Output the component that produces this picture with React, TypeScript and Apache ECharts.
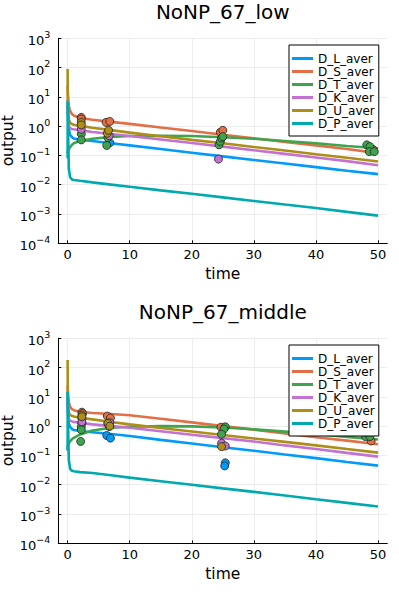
import React, { useEffect, useRef } from "react";
import * as echarts from "echarts";

// time grid of the model curves
const TIME = [0, 0.02, 0.05, 0.1, 0.2, 0.4, 0.7, 1, 2, 4, 7, 10, 15, 20, 25, 30, 35, 40, 45, 50];

// ---- NoNP_67_low : curves
const DL_low = [8, 5, 3, 1.5, 0.8, 0.5, 0.42, 0.38, 0.34, 0.31, 0.26, 0.22, 0.165, 0.124, 0.093, 0.07, 0.053, 0.04, 0.03, 0.023];
const DS_low = [25, 18, 12, 8, 5, 3.3, 2.6, 2.3, 1.9, 1.65, 1.4, 1.2, 0.9, 0.68, 0.51, 0.385, 0.29, 0.22, 0.165, 0.12];
const DT_low = [0.12, 0.13, 0.14, 0.15, 0.17, 0.19, 0.23, 0.26, 0.31, 0.37, 0.43, 0.46, 0.47, 0.46, 0.42, 0.37, 0.31, 0.26, 0.21, 0.175];
const DK_low = [5, 3.5, 2.5, 1.5, 1.0, 0.85, 0.8, 0.78, 0.72, 0.63, 0.54, 0.46, 0.35, 0.265, 0.2, 0.15, 0.113, 0.085, 0.064, 0.046];
const DU_low = [90, 15, 6, 3, 1.7, 1.3, 1.18, 1.12, 1.02, 0.88, 0.73, 0.6, 0.45, 0.34, 0.26, 0.195, 0.148, 0.11, 0.083, 0.062];
const DP_low = [0.08, 7, 2, 0.4, 0.035, 0.018, 0.0152, 0.0145, 0.0136, 0.012, 0.0101, 0.0085, 0.0064, 0.0049, 0.0037, 0.0028, 0.0021, 0.0016, 0.00118, 0.00088];

// ---- NoNP_67_low : observations [time, value]
const DL_low_obs = [[6.8, 0.27]];
const DS_low_obs = [[2.2, 2.0], [2.2, 1.75], [6.2, 1.35], [6.8, 1.45], [24.6, 0.62], [25.0, 0.72], [49.2, 0.16]];
const DT_low_obs = [[2.2, 0.54], [2.2, 0.34], [6.3, 0.22], [6.5, 0.4], [24.4, 0.23], [24.6, 0.3], [24.8, 0.39], [25.0, 0.44], [48.2, 0.23], [48.7, 0.2], [48.6, 0.135], [49.4, 0.135]];
const DK_low_obs = [[2.2, 0.78], [6.7, 0.47], [24.3, 0.075]];
const DU_low_obs = [[2.2, 1.35], [2.2, 1.1], [6.4, 0.57], [6.6, 0.72]];

// ---- NoNP_67_middle : curves
const DL_mid = [15, 8, 4, 2.2, 1.2, 0.95, 0.8, 0.74, 0.68, 0.62, 0.54, 0.46, 0.34, 0.255, 0.19, 0.145, 0.108, 0.081, 0.06, 0.045];
const DS_mid = [25, 18, 13, 10, 6.5, 4.6, 3.8, 3.5, 3.1, 2.8, 2.6, 2.35, 1.8, 1.35, 1.0, 0.76, 0.56, 0.42, 0.32, 0.24];
const DT_mid = [0.15, 0.17, 0.2, 0.23, 0.27, 0.3, 0.36, 0.4, 0.52, 0.71, 0.88, 0.96, 1.0, 0.98, 0.9, 0.78, 0.65, 0.54, 0.43, 0.35];
const DK_mid = [8, 5, 3, 2.1, 1.7, 1.55, 1.45, 1.4, 1.3, 1.15, 1.0, 0.88, 0.67, 0.51, 0.39, 0.3, 0.22, 0.165, 0.122, 0.091];
const DU_mid = [180, 30, 10, 4.5, 2.8, 2.4, 2.25, 2.15, 1.95, 1.7, 1.38, 1.15, 0.87, 0.66, 0.5, 0.38, 0.29, 0.22, 0.165, 0.125];
const DP_mid = [0.15, 15, 3, 0.6, 0.07, 0.035, 0.03, 0.029, 0.027, 0.025, 0.021, 0.0175, 0.0132, 0.01, 0.0075, 0.0057, 0.0043, 0.0032, 0.0024, 0.0018];

// ---- NoNP_67_middle : observations [time, value]
const DL_mid_obs = [[2.3, 1.25], [6.3, 0.48], [6.9, 0.39], [25.4, 0.056], [25.3, 0.044]];
const DS_mid_obs = [[2.3, 3.0], [2.4, 2.7], [6.4, 2.2], [6.9, 1.9], [24.7, 0.92], [48.9, 0.31]];
const DT_mid_obs = [[2.2, 0.95], [2.2, 0.75], [2.1, 0.3], [6.5, 1.25], [6.7, 0.98], [25.4, 0.95], [25.2, 0.8], [24.8, 0.53], [48.0, 0.44], [48.7, 0.44]];
const DK_mid_obs = [[2.3, 1.8], [2.3, 1.4], [6.8, 1.3], [24.8, 0.26], [25.4, 0.21]];
const DU_mid_obs = [[2.3, 2.4], [2.3, 2.1], [6.5, 1.25], [6.8, 1.0], [24.8, 0.2]];

const NAMES = ["D_L_aver", "D_S_aver", "D_T_aver", "D_K_aver", "D_U_aver", "D_P_aver"];
const TITLES = ["NoNP_67_low", "NoNP_67_middle"];
const X_TICKS = [0, 10, 20, 30, 40, 50];
const COLORS = ["#009AFA", "#E36F47", "#3EA44E", "#C371D2", "#AC8E18", "#00A9AD"];
const FONT = "DejaVu Sans";

const CURVES = [
  [DL_low, DS_low, DT_low, DK_low, DU_low, DP_low],
  [DL_mid, DS_mid, DT_mid, DK_mid, DU_mid, DP_mid],
];
const OBS = [
  [DL_low_obs, DS_low_obs, DT_low_obs, DK_low_obs, DU_low_obs],
  [DL_mid_obs, DS_mid_obs, DT_mid_obs, DK_mid_obs, DU_mid_obs],
];

const GRID_TOP = [38.3, 338.3];

function pairs(t: number[], v: number[]) {
  return t.map((x, i) => [x, v[i]]);
}

export default function App() {
  const ref = useRef<HTMLDivElement>(null);
  useEffect(() => {
    if (!ref.current) return;
    const chart = echarts.init(ref.current, null, { renderer: "svg" });
    const grid: any[] = [];
    const xAxis: any[] = [];
    const yAxis: any[] = [];
    const title: any[] = [];
    const legend: any[] = [];
    const series: any[] = [];
    for (let g = 0; g < 2; g++) {
      grid.push({
        left: 58.3,
        top: GRID_TOP[g],
        width: 329,
        height: 205,
        containLabel: false,
        outerBoundsMode: "none",
      });
      title.push({
        text: TITLES[g],
        left: 222.8,
        textAlign: "center",
        top: GRID_TOP[g] - 36.5,
        padding: 0,
        textStyle: { fontSize: 20, fontWeight: "normal", color: "#000", fontFamily: FONT },
      });
      xAxis.push({
        gridIndex: g,
        type: "value",
        min: -1.5,
        max: 51.5,
        name: "time",
        nameLocation: "middle",
        nameGap: 23,
        nameMoveOverlap: false,
        nameTextStyle: { fontSize: 15.5, color: "#000", fontFamily: FONT },
        axisLine: { show: true, onZero: false, lineStyle: { color: "#000", width: 1 } },
        axisTick: { show: true, inside: true, length: 3, customValues: X_TICKS, lineStyle: { color: "#000" } },
        axisLabel: { customValues: X_TICKS, fontSize: 13, color: "#000", fontFamily: FONT, margin: 5 },
        splitLine: { show: true, lineStyle: { color: "#e8e8e8", width: 0.8 } },
      });
      yAxis.push({
        gridIndex: g,
        type: "log",
        logBase: 10,
        min: 1e-4,
        max: 1e3,
        name: "output",
        nameLocation: "middle",
        nameGap: 42,
        nameMoveOverlap: false,
        nameTextStyle: { fontSize: 15.5, color: "#000", fontFamily: FONT },
        axisLine: { show: true, onZero: false, lineStyle: { color: "#000", width: 1 } },
        axisTick: { show: true, inside: true, length: 3, lineStyle: { color: "#000" } },
        axisLabel: {
          margin: 8,
          formatter: (v: number) => {
            const e = Math.round(Math.log10(v));
            const es = e < 0 ? "\u2212" + -e : String(e);
            return `{b|10}{s|${es}}`;
          },
          rich: {
            b: { fontSize: 13, color: "#000", fontFamily: FONT, lineHeight: 18, verticalAlign: "bottom" },
            s: { fontSize: 9.5, color: "#000", fontFamily: FONT, lineHeight: 18, verticalAlign: "top" },
          },
        },
        splitLine: { show: true, lineStyle: { color: "#e8e8e8", width: 0.8 } },
      });
      legend.push({
        data: NAMES,
        orient: "vertical",
        left: 289,
        top: GRID_TOP[g] + 6.7,
        icon: "rect",
        itemWidth: 21,
        itemHeight: 3,
        itemGap: 0,
        padding: [7, 4, 6, 3],
        borderColor: "#000",
        borderWidth: 1,
        backgroundColor: "#fff",
        selectedMode: false,
        textStyle: { fontSize: 12, color: "#000", fontFamily: FONT, lineHeight: 13 },
      });
      CURVES[g].forEach((vals, i) => {
        series.push({
          type: "line",
          name: NAMES[i],
          xAxisIndex: g,
          yAxisIndex: g,
          data: pairs(TIME, vals),
          symbol: "none",
          lineStyle: { width: 2.6, color: COLORS[i] },
          itemStyle: { color: COLORS[i] },
          z: 2,
          silent: true,
        });
      });
      OBS[g].forEach((pts, i) => {
        series.push({
          type: "scatter",
          name: NAMES[i] + "_obs",
          xAxisIndex: g,
          yAxisIndex: g,
          data: pts,
          symbol: "circle",
          symbolSize: 8,
          itemStyle: { color: COLORS[i], borderColor: "#222", borderWidth: 0.8, opacity: 1 },
          z: 3,
          silent: true,
        });
      });
    }
    chart.setOption({
      animation: false,
      backgroundColor: "#fff",
      textStyle: { fontFamily: FONT },
      title,
      grid,
      xAxis,
      yAxis,
      legend,
      series,
    });
    return () => chart.dispose();
  }, []);
  return <div ref={ref} style={{ position: "fixed", left: 0, top: 0, width: 399, height: 600 }} />;
}
